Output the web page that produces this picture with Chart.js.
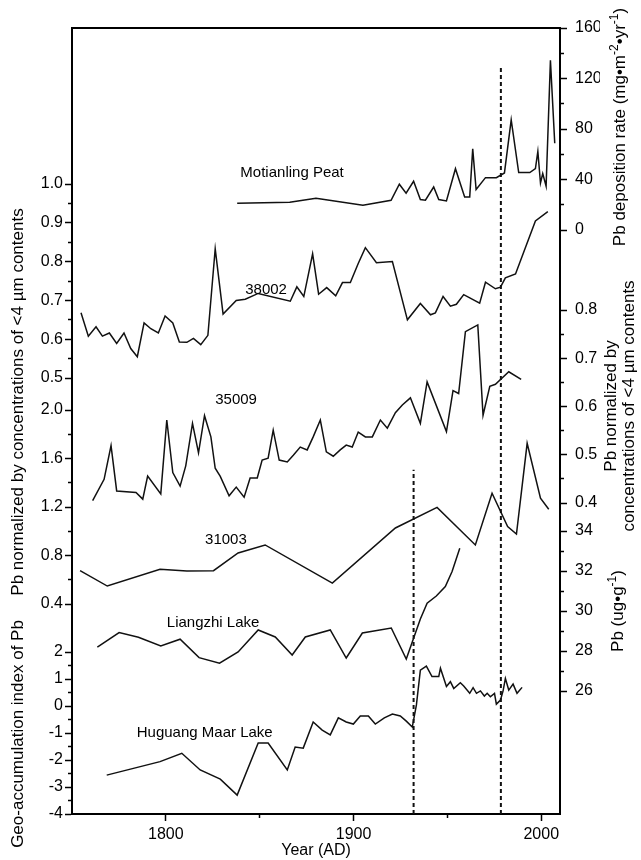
<!DOCTYPE html>
<html lang="en">
<head>
<meta charset="UTF-8">
<title>Pb records since 1750</title>
<script src="https://cdn.jsdelivr.net/npm/chart.js"></script>
<style>
  body { margin: 0; background: #fff; }
  .chart-box { width: 641px; height: 860px; }
</style>
</head>
<body>
<div class="chart-box"><canvas id="pbChart"></canvas></div>
<script>
// ---- records (year AD, value) ----
// Motianling Peat, Pb deposition rate (mg m-2 yr-1)
const peatYears = [1838, 1866, 1880, 1905, 1920, 1924.4, 1928, 1932, 1935.6, 1938.3, 1942.7, 1945.4, 1949.5, 1954.3,
  1959.2, 1961.9, 1963.5, 1965.3, 1970.3, 1976.1, 1980.4, 1984, 1988, 1993.9, 1996.9, 1998.2, 1999.6, 2000.8, 2002.6, 2004.9, 2007.2];
const peatRate = [21.3, 22.1, 25.2, 19.7, 23.6, 36.3, 29.2, 38.6, 24.2, 23.6, 34.1, 24.2, 23.1, 48.6,
  26.2, 26.2, 64.4, 32.1, 41.5, 41.5, 45.2, 87.3, 45.5, 45.5, 48.6, 62.3, 37.3, 44.7, 34.7, 134.5, 68.8];

// core 38002, Pb normalized by <4 um contents
const core38002Years = [1754.8, 1758.7, 1762.8, 1766.2, 1769.9, 1773.8, 1777.7, 1781.3, 1784.8, 1788.4, 1792, 1796, 1799.6,
  1803.7, 1807.2, 1811.2, 1814.7, 1818.6, 1822.4, 1826.3, 1830.5, 1837.5, 1842.3, 1849.2, 1866.3, 1869.8, 1873.5, 1878.2,
  1881.4, 1885.7, 1890.5, 1894.1, 1898.3, 1902.5, 1906.3, 1912.2, 1920.7, 1928.7, 1935.6, 1941, 1943.6, 1947.7, 1951.6,
  1954.8, 1958.7, 1967.2, 1970.3, 1975.6, 1978.3, 1980.9, 1986.3, 1996.9, 2003.5];
const core38002Pb = [0.668, 0.608, 0.632, 0.608, 0.616, 0.589, 0.616, 0.576, 0.555, 0.642, 0.627, 0.616, 0.66,
  0.642, 0.593, 0.592, 0.602, 0.586, 0.61, 0.833, 0.665, 0.7, 0.703, 0.718, 0.698, 0.735, 0.71, 0.82,
  0.716, 0.733, 0.712, 0.746, 0.746, 0.795, 0.836, 0.797, 0.8, 0.65, 0.692, 0.663, 0.668, 0.71, 0.685,
  0.69, 0.715, 0.693, 0.747, 0.73, 0.734, 0.758, 0.768, 0.905, 0.929];

// core 35009, Pb normalized by <4 um contents
const core35009Years = [1761, 1767.1, 1770.8, 1773.8, 1784.1, 1787.7, 1790.3, 1797.3, 1800.5, 1803.7, 1807.6, 1810.6, 1814.2,
  1817.4, 1820.6, 1824, 1826.3, 1829, 1833.7, 1837.5, 1841.7, 1844.9, 1848.7, 1851.3, 1854.5, 1857.2, 1860.4, 1864.7,
  1867.9, 1871.6, 1875.3, 1878.5, 1882.3, 1885.5, 1889.2, 1892.9, 1896.1, 1899.3, 1902.5, 1906.3, 1910, 1914.3, 1918,
  1922.3, 1926, 1930.3, 1935.6, 1939.2, 1949.5, 1953, 1956, 1959.6, 1966.2, 1969, 1972.6, 1975.6, 1982.7, 1989.3];
const core35009Pb = [0.405, 0.449, 0.519, 0.425, 0.422, 0.408, 0.456, 0.419, 0.572, 0.463, 0.435, 0.477, 0.565,
  0.504, 0.581, 0.537, 0.472, 0.455, 0.415, 0.433, 0.412, 0.452, 0.452, 0.489, 0.493, 0.551, 0.489, 0.485,
  0.499, 0.516, 0.51, 0.537, 0.572, 0.506, 0.497, 0.51, 0.52, 0.516, 0.547, 0.537, 0.537, 0.572, 0.555,
  0.587, 0.603, 0.618, 0.565, 0.651, 0.548, 0.633, 0.627, 0.755, 0.769, 0.582, 0.642, 0.646, 0.672, 0.656];

// core 31003, Pb normalized by <4 um contents
const core31003Years = [1754.3, 1768.8, 1796.9, 1811.2, 1825.4, 1838.5, 1852.9, 1888.7, 1922.3, 1944.5, 1964.9, 1973.8,
  1982.1, 1986.8, 1992.5, 1999.6, 2004];
const core31003Pb = [0.675, 0.548, 0.686, 0.672, 0.675, 0.821, 0.887, 0.573, 1.027, 1.197, 0.887, 1.313,
  1.038, 0.977, 1.725, 1.272, 1.181];

// Liangzhi Lake, Pb (ug/g)
const liangzhiYears = [1763.5, 1775.1, 1785.4, 1797.3, 1807.6, 1817.7, 1828.6, 1838.5, 1849.2, 1858.3, 1867.3, 1874.3,
  1887.6, 1896.1, 1904.7, 1920.1, 1928.1, 1935.6, 1939.2, 1944.1, 1948.9, 1952.5, 1956.6];
const liangzhiPb = [28.19, 28.92, 28.69, 28.25, 28.59, 27.67, 27.39, 27.95, 29.05, 28.7, 27.8, 28.7,
  29.05, 27.65, 28.9, 29.15, 27.6, 29.6, 30.39, 30.75, 31.22, 31.97, 33.14];

// Huguang Maar Lake, geo-accumulation index of Pb
const huguangYears = [1768.5, 1796.9, 1808.5, 1818.3, 1829, 1838, 1849.2, 1854.5, 1864.7, 1868.9, 1873.2, 1878.5,
  1883.3, 1887.6, 1891.9, 1896.1, 1899.9, 1903.6, 1907.9, 1911.6, 1916.4, 1920.7, 1924.9, 1928.1, 1931.3, 1933.5,
  1935.6, 1938.8, 1941.8, 1945.4, 1946.3, 1949.5, 1951.6, 1953.4, 1956.9, 1958.7, 1961.9, 1963.7, 1965.5, 1967.6,
  1969.7, 1971.2, 1972.9, 1975.1, 1976.1, 1978.3, 1979.7, 1980.9, 1982.7, 1985, 1987.1, 1989.8];
const huguangIgeo = [-2.56, -2.06, -1.75, -2.37, -2.71, -3.3, -1.37, -1.37, -2.37, -1.52, -1.56, -0.59,
  -0.89, -1.07, -0.44, -0.59, -0.67, -0.37, -0.37, -0.67, -0.44, -0.3, -0.37, -0.56, -0.78, 0.04,
  1.33, 1.48, 1.09, 1.09, 1.4, 0.72, 0.9, 0.65, 0.86, 0.74, 0.47, 0.68, 0.47, 0.56,
  0.37, 0.47, 0.34, 0.47, 0.07, 0.22, 0.57, 1.02, 0.59, 0.81, 0.47, 0.69];

// dotted reference years
const markerYears = [1932, 1978.5];

// labelled ticks; unlabelled minor ticks sit half way between them
const yearTicks = [1800, 1900, 2000];
const ticks38002 = [0.5, 0.6, 0.7, 0.8, 0.9, 1.0];
const ticks31003 = [0.4, 0.8, 1.2, 1.6, 2.0];
const ticksIgeo = [-4, -3, -2, -1, 0, 1, 2];
const ticksRate = [0, 40, 80, 120, 160];
const ticks35009 = [0.4, 0.5, 0.6, 0.7, 0.8];
const ticksLiangzhi = [26, 28, 30, 32, 34];

const FONT = '"Liberation Sans", Arial, sans-serif';

function points(xs, ys) {
  return xs.map((x, i) => ({ x: x, y: ys[i] }));
}

function withMinor(list) {
  const out = list.map(v => ({ value: v, lab: true }));
  for (let i = 0; i < list.length - 1; i++) {
    out.push({ value: (list[i] + list[i + 1]) / 2, lab: false });
  }
  return out.sort((a, b) => a.value - b.value);
}

// one piece of a stacked y axis
function yPiece(pos, order, share, min, max, labelled, digits) {
  return {
    type: 'linear',
    position: pos,
    stack: pos + 'Stack',
    stackWeight: share,
    weight: order,
    min: min,
    max: max,
    bounds: 'data',
    afterBuildTicks: s => { s.ticks = withMinor(labelled); },
    afterFit: s => { s.width = 40; },
    ticks: {
      autoSkip: false,
      padding: pos === 'left' ? 2 : 8,
      color: '#000',
      font: { family: FONT, size: 16 },
      callback: (v, i, t) => t[i].lab ? v.toFixed(digits) : ''
    },
    grid: {
      drawOnChartArea: false,
      tickLength: 7,
      tickWidth: 1.5,
      tickColor: '#000',
      // minor ticks: only the half next to the axis line
      tickBorderDash: c => (c.tick && !c.tick.lab) ? (pos === 'left' ? [0, 3, 10] : [3, 10]) : []
    },
    border: { color: '#000', width: 2 }
  };
}

function series(label, xs, ys, axis, tag) {
  return {
    label: label,
    data: points(xs, ys),
    yAxisID: axis,
    borderColor: '#111',
    borderWidth: 1.5,
    pointRadius: 0,
    tension: 0,
    clip: false,
    tag: tag
  };
}

function marker(year, top) {
  return {
    label: 'marker',
    data: [{ x: year, y: 0 }, { x: year, y: top }],
    yAxisID: 'yMark',
    borderColor: '#111',
    borderWidth: 2,
    borderDash: [4, 3],
    pointRadius: 0,
    clip: false
  };
}

// rotated axis titles, read bottom to top; [text, superscript?]
function vTitle(ctx, parts, x, y) {
  let w = 0;
  parts.forEach(p => {
    ctx.font = (p[1] ? 12 : 17) + 'px ' + FONT;
    w += ctx.measureText(p[0]).width;
  });
  ctx.save();
  ctx.translate(x, y);
  ctx.rotate(-Math.PI / 2);
  let cx = -w / 2;
  parts.forEach(p => {
    ctx.font = (p[1] ? 12 : 17) + 'px ' + FONT;
    ctx.fillText(p[0], cx, p[1] ? -5 : 0);
    cx += ctx.measureText(p[0]).width;
  });
  ctx.restore();
}

const labelsPlugin = {
  id: 'recordLabels',
  afterDatasetsDraw(chart) {
    const { ctx, scales, chartArea } = chart;
    ctx.save();
    ctx.fillStyle = '#000';
    ctx.textAlign = 'left';
    ctx.textBaseline = 'middle';
    ctx.font = '15px ' + FONT;
    chart.data.datasets.forEach(ds => {
      if (!ds.tag) return;
      ctx.fillText(ds.label, scales.x.getPixelForValue(ds.tag[0]), scales[ds.yAxisID].getPixelForValue(ds.tag[1]));
    });

    const L = chartArea.left - 54, R = chartArea.right + 60;
    vTitle(ctx, [['Pb normalized by concentrations of <4 \u00b5m contents', false]], L, 402);
    vTitle(ctx, [['Geo-accumulation index of Pb', false]], L, 734);
    vTitle(ctx, [['Pb deposition rate (mg\u2022m', false], ['-2', true], ['\u2022yr', false], ['-1', true], [')', false]], R, 127);
    vTitle(ctx, [['Pb normalized by', false]], R - 9, 406);
    vTitle(ctx, [['concentrations of <4 \u00b5m contents', false]], R + 9, 406);
    vTitle(ctx, [['Pb (ug\u2022g', false], ['-1', true], [')', false]], R - 2, 611);
    ctx.restore();
  }
};

const pbChart = new Chart(document.getElementById('pbChart'), {
  type: 'line',
  data: {
    datasets: [
      series('Motianling Peat', peatYears, peatRate, 'yRate', [1839.7, 45]),
      series('38002', core38002Years, core38002Pb, 'y38002', [1842.3, 0.727]),
      series('35009', core35009Years, core35009Pb, 'y35009', [1826.3, 0.613]),
      series('31003', core31003Years, core31003Pb, 'y31003', [1820.9, 0.928]),
      series('Liangzhi Lake', liangzhiYears, liangzhiPb, 'yLiangzhi', [1800.5, 29.4]),
      series('Huguang Maar Lake', huguangYears, huguangIgeo, 'yIgeo', [1784.5, -1.0]),
      marker(markerYears[0], 43.8),
      marker(markerYears[1], 94.9)
    ]
  },
  options: {
    responsive: true,
    maintainAspectRatio: false,
    animation: false,
    events: [],
    layout: { padding: { left: 32, right: 41, top: 28, bottom: 0 } },
    plugins: { legend: { display: false }, tooltip: { enabled: false } },
    scales: {
      x: {
        type: 'linear',
        position: 'bottom',
        min: 1750,
        max: 2010,
        bounds: 'data',
        afterBuildTicks: s => { s.ticks = withMinor(yearTicks); },
        afterFit: s => { s.height = 46; },
        ticks: {
          autoSkip: false,
          maxRotation: 0,
          padding: 4,
          color: '#000',
          font: { family: FONT, size: 16 },
          callback: (v, i, t) => t[i].lab ? String(v) : ''
        },
        grid: {
          drawOnChartArea: false,
          tickLength: 7,
          tickWidth: 1.5,
          tickColor: '#000',
          tickBorderDash: c => (c.tick && !c.tick.lab) ? [3, 10] : []
        },
        border: { color: '#000', width: 2 },
        title: { display: true, text: 'Year (AD)', color: '#000', font: { family: FONT, size: 16 }, padding: 0 }
      },
      // top frame line only
      xTop: {
        type: 'linear',
        position: 'top',
        min: 1750,
        max: 2010,
        afterFit: s => { s.height = 0; },
        ticks: { display: false },
        grid: { display: false, drawTicks: false, tickLength: 0 },
        border: { color: '#000', width: 2 }
      },
      // left column, top to bottom
      y38002: yPiece('left', 3, 366, 0.4588, 1.4021, ticks38002, 1),
      y31003: yPiece('left', 2, 234, 0.2021, 2.1320, ticks31003, 1),
      yIgeo: yPiece('left', 1, 186, -4, 2.8889, ticksIgeo, 0),
      // right column, top to bottom
      yRate: yPiece('right', 1, 242, -31.64, 160, ticksRate, 0),
      y35009: yPiece('right', 2, 247, 0.3710, 0.8829, ticks35009, 1),
      yLiangzhi: yPiece('right', 3, 297, 19.85, 34.7, ticksLiangzhi, 0),
      // full-height helper for the dotted reference lines (percent of plot height)
      yMark: { type: 'linear', position: 'left', display: false, min: 0, max: 100 }
    }
  },
  plugins: [labelsPlugin]
});
</script>
</body>
</html>
